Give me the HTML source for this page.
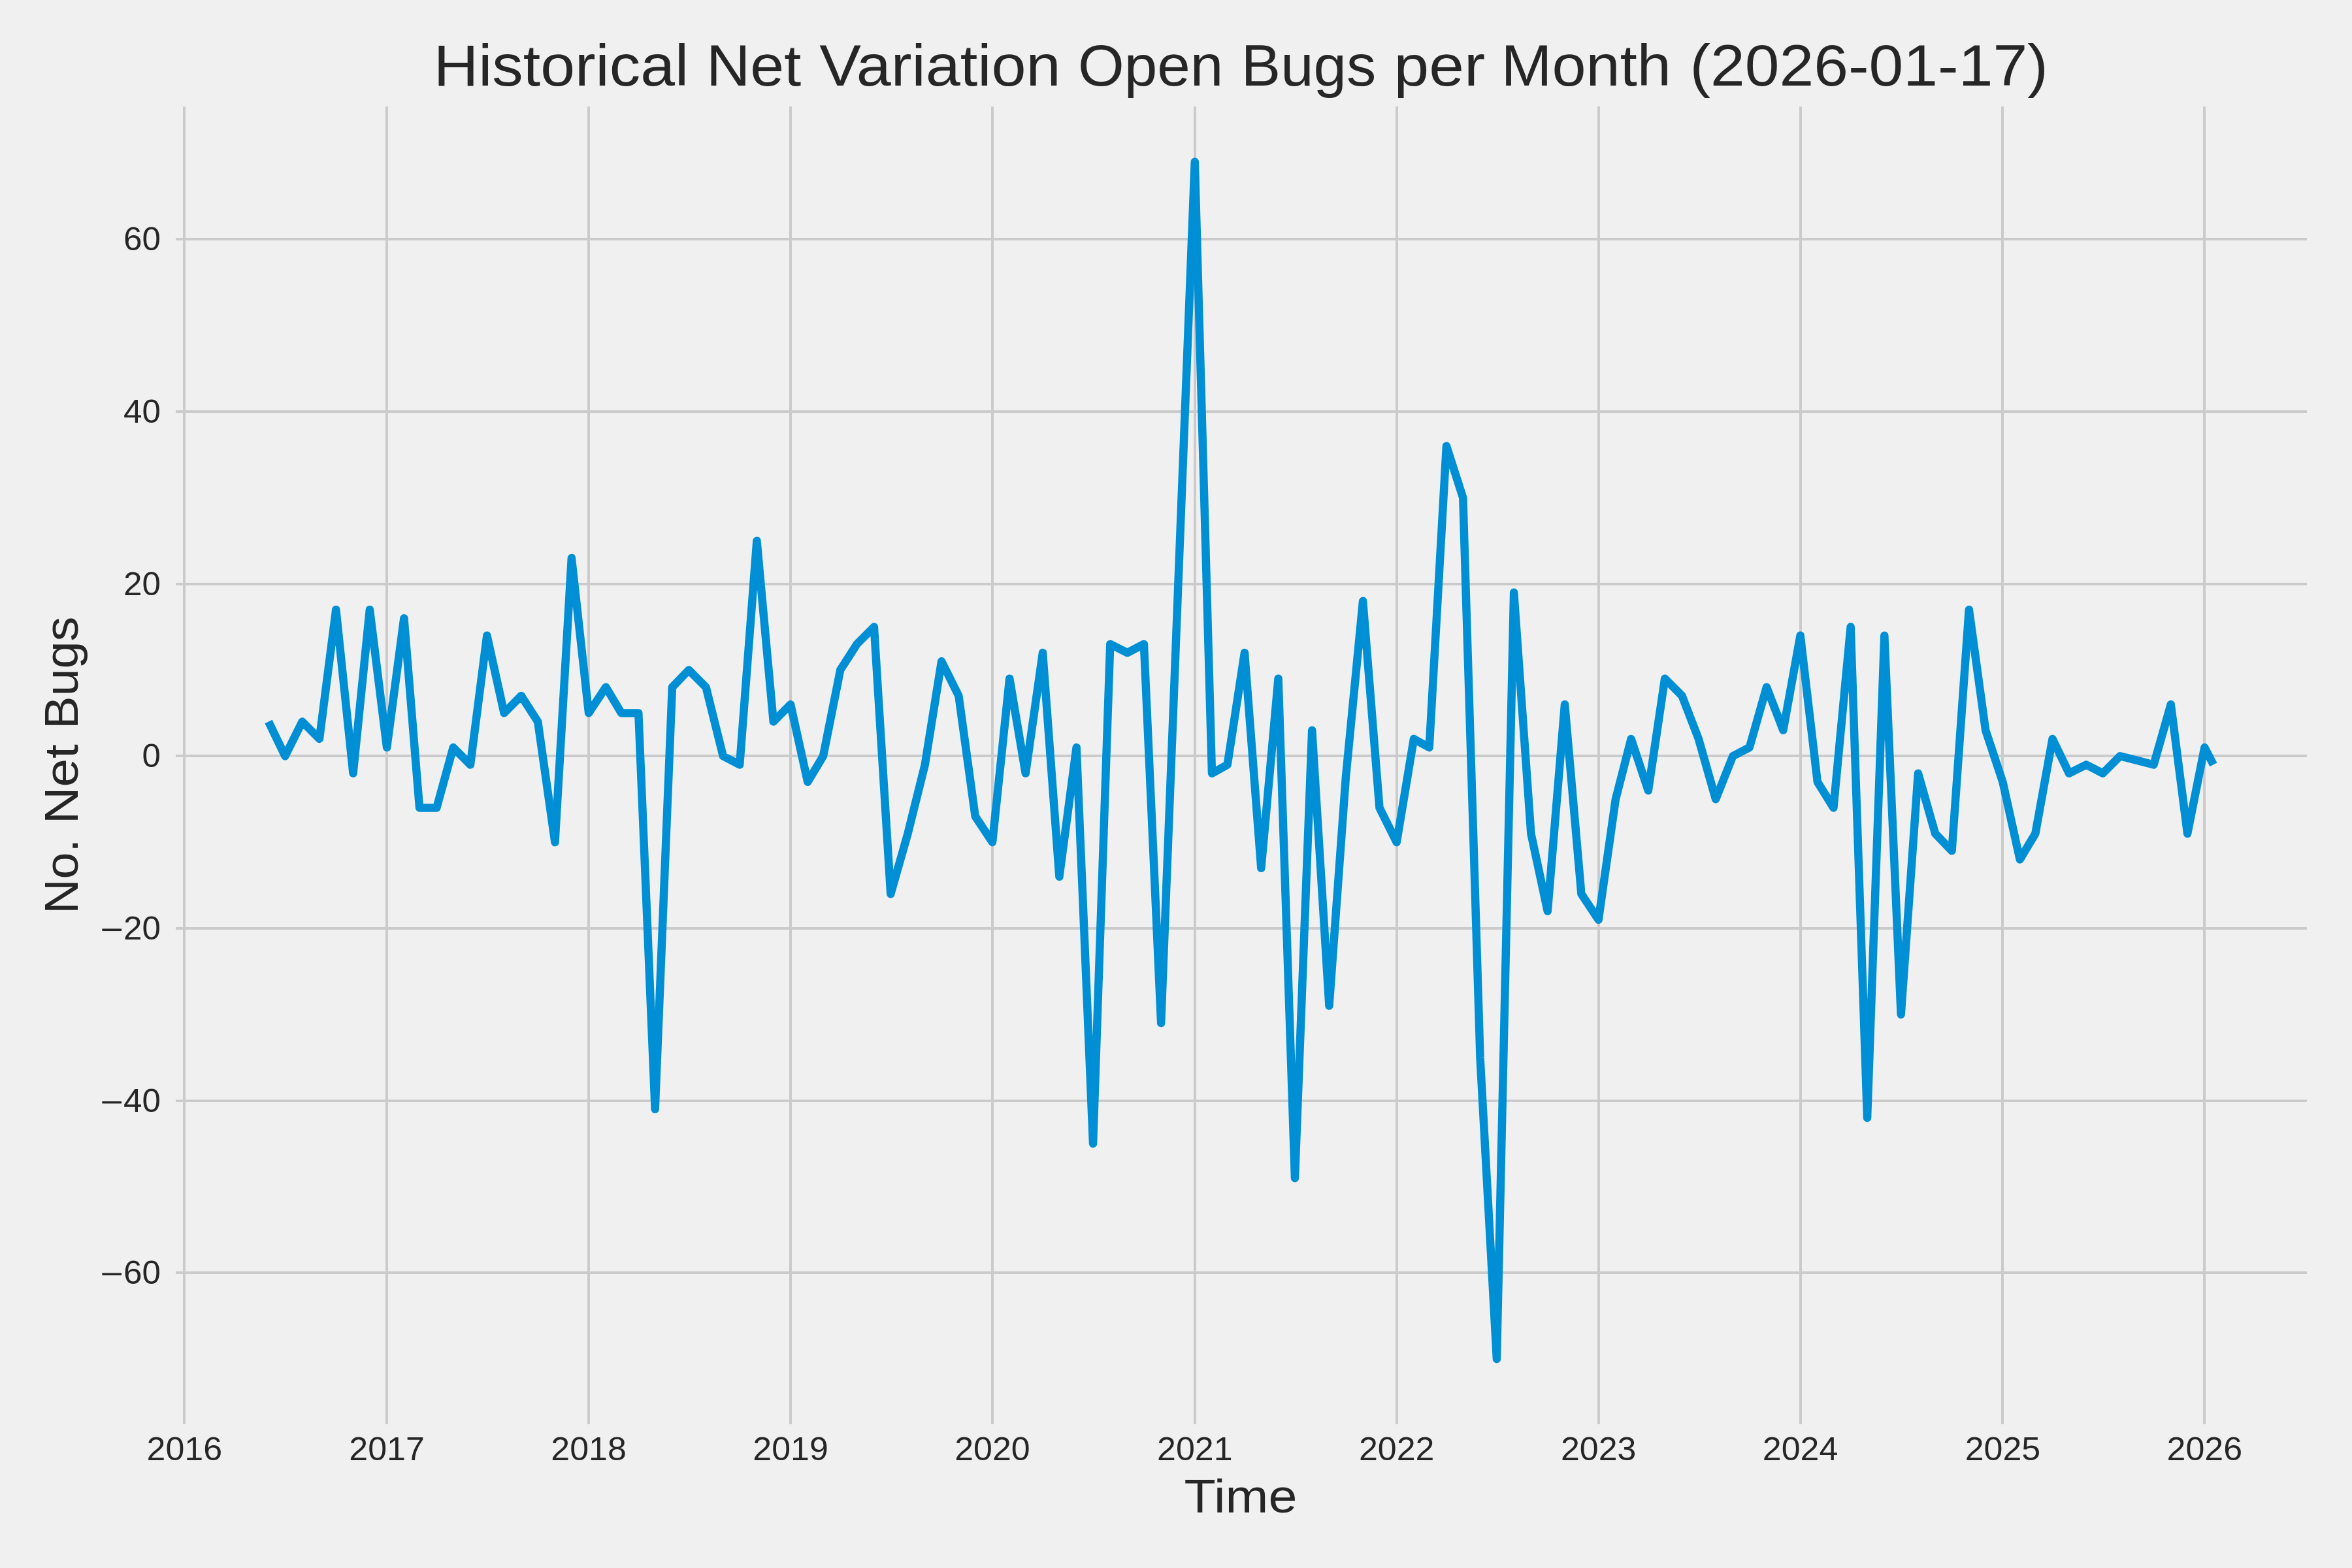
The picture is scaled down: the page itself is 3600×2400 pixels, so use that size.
<!DOCTYPE html><html><head><meta charset="utf-8"><style>html,body{margin:0;padding:0;background:#f0f0f0;}svg{display:block;}text{font-family:"Liberation Sans",sans-serif;fill:#262626;}</style></head><body>
<svg width="3600" height="2400" viewBox="0 0 3600 2400">
<rect x="0" y="0" width="3600" height="2400" fill="#f0f0f0"/>
<path d="M282,163 V2180 M592,163 V2180 M901,163 V2180 M1210,163 V2180 M1519,163 V2180 M1829,163 V2180 M2138,163 V2180 M2447,163 V2180 M2756,163 V2180 M3065,163 V2180 M3374,163 V2180 M269,1948 H3531 M269,1685 H3531 M269,1421 H3531 M269,1157 H3531 M269,894 H3531 M269,630 H3531 M269,366 H3531" stroke="#cbcbcb" stroke-width="4" fill="none"/>
<path d="M411.01,1104.57 L436.40,1157.30 L462.64,1104.57 L488.88,1130.93 L514.27,933.18 L540.51,1183.67 L565.90,933.18 L592.14,1144.12 L618.38,946.37 L642.08,1236.40 L668.32,1236.40 L693.71,1144.12 L719.95,1170.48 L745.35,972.73 L771.59,1091.38 L797.82,1065.02 L823.22,1104.57 L849.46,1289.13 L874.85,854.08 L901.09,1091.38 L927.33,1051.83 L951.03,1091.38 L977.27,1091.38 L1002.66,1697.82 L1028.90,1051.83 L1054.29,1025.47 L1080.53,1051.83 L1106.77,1157.30 L1132.16,1170.48 L1158.40,827.72 L1183.80,1104.57 L1210.03,1078.20 L1236.27,1196.85 L1259.97,1157.30 L1286.21,1025.47 L1311.61,985.92 L1337.85,959.55 L1363.24,1368.23 L1389.48,1275.95 L1415.72,1170.48 L1441.11,1012.28 L1467.35,1065.02 L1492.74,1249.58 L1518.98,1289.13 L1545.22,1038.65 L1569.77,1183.67 L1596.01,999.10 L1621.40,1341.87 L1647.64,1144.12 L1673.03,1750.55 L1699.27,985.92 L1725.51,999.10 L1750.90,985.92 L1777.14,1565.98 L1802.53,916.04 L1828.77,247.65 L1855.01,1183.67 L1878.71,1170.48 L1904.95,999.10 L1930.34,1328.68 L1956.58,1038.65 L1981.98,1803.28 L2008.22,1117.75 L2034.46,1539.62 L2059.85,1190.26 L2086.09,920.00 L2111.48,1236.40 L2137.72,1289.13 L2163.96,1130.93 L2187.66,1144.12 L2213.90,682.70 L2239.29,761.80 L2265.53,1618.72 L2290.92,2080.13 L2317.16,906.82 L2343.40,1275.95 L2368.79,1394.60 L2395.03,1078.20 L2420.43,1368.23 L2446.67,1407.78 L2472.90,1223.22 L2496.60,1130.93 L2522.84,1210.03 L2548.24,1038.65 L2574.48,1065.02 L2599.87,1130.93 L2626.11,1223.22 L2652.35,1157.30 L2677.74,1144.12 L2703.98,1051.83 L2729.37,1117.75 L2755.61,972.73 L2781.85,1196.85 L2806.40,1236.40 L2832.64,959.55 L2858.03,1711.00 L2884.27,972.73 L2909.66,1552.80 L2935.90,1183.67 L2962.14,1275.95 L2987.53,1302.32 L3013.77,933.18 L3039.16,1117.75 L3065.40,1196.85 L3091.64,1315.50 L3115.34,1275.95 L3141.58,1130.93 L3166.98,1183.67 L3193.21,1170.48 L3218.61,1183.67 L3244.85,1157.30 L3271.09,1163.89 L3296.48,1170.48 L3322.72,1078.20 L3348.11,1275.95 L3374.35,1144.12 L3387.89,1170.48" stroke="#008fd5" stroke-width="12.5" fill="none" stroke-linejoin="round" stroke-linecap="butt"/>
<text x="246" y="1965.20" font-size="50.2" text-anchor="end" textLength="56.9" lengthAdjust="spacingAndGlyphs">60</text>
<text x="153.2" y="1967.40" font-size="50.2" textLength="35.7" lengthAdjust="spacingAndGlyphs">−</text>
<text x="246" y="1701.53" font-size="50.2" text-anchor="end" textLength="56.9" lengthAdjust="spacingAndGlyphs">40</text>
<text x="153.2" y="1703.73" font-size="50.2" textLength="35.7" lengthAdjust="spacingAndGlyphs">−</text>
<text x="246" y="1437.87" font-size="50.2" text-anchor="end" textLength="56.9" lengthAdjust="spacingAndGlyphs">20</text>
<text x="153.2" y="1440.07" font-size="50.2" textLength="35.7" lengthAdjust="spacingAndGlyphs">−</text>
<text x="246" y="1174.20" font-size="50.2" text-anchor="end" textLength="28.4" lengthAdjust="spacingAndGlyphs">0</text>
<text x="246" y="910.53" font-size="50.2" text-anchor="end" textLength="56.9" lengthAdjust="spacingAndGlyphs">20</text>
<text x="246" y="646.87" font-size="50.2" text-anchor="end" textLength="56.9" lengthAdjust="spacingAndGlyphs">40</text>
<text x="246" y="383.20" font-size="50.2" text-anchor="end" textLength="56.9" lengthAdjust="spacingAndGlyphs">60</text>
<text x="282.35" y="2234.8" font-size="50.2" text-anchor="middle" textLength="115.5" lengthAdjust="spacingAndGlyphs">2016</text>
<text x="592.14" y="2234.8" font-size="50.2" text-anchor="middle" textLength="115.5" lengthAdjust="spacingAndGlyphs">2017</text>
<text x="901.09" y="2234.8" font-size="50.2" text-anchor="middle" textLength="115.5" lengthAdjust="spacingAndGlyphs">2018</text>
<text x="1210.03" y="2234.8" font-size="50.2" text-anchor="middle" textLength="115.5" lengthAdjust="spacingAndGlyphs">2019</text>
<text x="1518.98" y="2234.8" font-size="50.2" text-anchor="middle" textLength="115.5" lengthAdjust="spacingAndGlyphs">2020</text>
<text x="1828.77" y="2234.8" font-size="50.2" text-anchor="middle" textLength="115.5" lengthAdjust="spacingAndGlyphs">2021</text>
<text x="2137.72" y="2234.8" font-size="50.2" text-anchor="middle" textLength="115.5" lengthAdjust="spacingAndGlyphs">2022</text>
<text x="2446.67" y="2234.8" font-size="50.2" text-anchor="middle" textLength="115.5" lengthAdjust="spacingAndGlyphs">2023</text>
<text x="2755.61" y="2234.8" font-size="50.2" text-anchor="middle" textLength="115.5" lengthAdjust="spacingAndGlyphs">2024</text>
<text x="3065.40" y="2234.8" font-size="50.2" text-anchor="middle" textLength="115.5" lengthAdjust="spacingAndGlyphs">2025</text>
<text x="3374.35" y="2234.8" font-size="50.2" text-anchor="middle" textLength="115.5" lengthAdjust="spacingAndGlyphs">2026</text>
<text x="663.71" y="131.3" font-size="88.1" textLength="390.33" lengthAdjust="spacingAndGlyphs">Historical</text>
<text x="1080.96" y="131.3" font-size="88.1" textLength="145.29" lengthAdjust="spacingAndGlyphs">Net</text>
<text x="1254.18" y="131.3" font-size="88.1" textLength="369.35" lengthAdjust="spacingAndGlyphs">Variation</text>
<text x="1649.98" y="131.3" font-size="88.1" textLength="222.50" lengthAdjust="spacingAndGlyphs">Open</text>
<text x="1899.83" y="131.3" font-size="88.1" textLength="206.33" lengthAdjust="spacingAndGlyphs">Bugs</text>
<text x="2133.61" y="131.3" font-size="88.1" textLength="139.52" lengthAdjust="spacingAndGlyphs">per</text>
<text x="2297.63" y="131.3" font-size="88.1" textLength="260.09" lengthAdjust="spacingAndGlyphs">Month</text>
<text x="2586.47" y="131.3" font-size="88.1" textLength="548.25" lengthAdjust="spacingAndGlyphs">(2026-01-17)</text>
<text x="1899" y="2315" font-size="72.8" text-anchor="middle" textLength="172.8" lengthAdjust="spacingAndGlyphs">Time</text>
<text transform="translate(118.6,0) rotate(-90)" x="-1398.63" y="0" font-size="72.8" textLength="114.56" lengthAdjust="spacingAndGlyphs">No.</text>
<text transform="translate(118.6,0) rotate(-90)" x="-1261.39" y="0" font-size="72.8" textLength="122.24" lengthAdjust="spacingAndGlyphs">Net</text>
<text transform="translate(118.6,0) rotate(-90)" x="-1115.90" y="0" font-size="72.8" textLength="172.26" lengthAdjust="spacingAndGlyphs">Bugs</text>
</svg></body></html>
